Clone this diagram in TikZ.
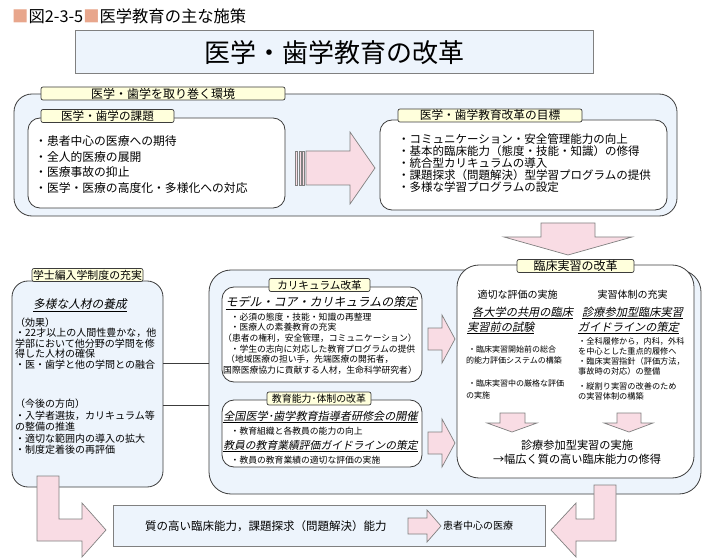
\documentclass[tikz,border=0pt]{standalone}
\usepackage{fontspec}
\setmainfont{Noto Sans CJK JP}
\newfontfamily\slantjp[FakeSlant=0.2]{Noto Sans CJK JP}
\usetikzlibrary{positioning}

\definecolor{paleblue}{RGB}{237,244,252}
\definecolor{tabyellow}{RGB}{255,255,220}
\definecolor{arrowpink}{RGB}{249,220,228}
\definecolor{headsq}{RGB}{232,166,140}
\definecolor{edgegray}{RGB}{60,60,60}
\newcommand{\jpsize}[2]{\fontsize{#1}{#2}\selectfont}

\tikzset{
  bluebox/.style={draw=edgegray, fill=paleblue, line width=0.8pt, inner sep=0pt},
  whitebox/.style={draw=edgegray, fill=white, line width=0.8pt, inner sep=0pt},
  tabbox/.style={draw=edgegray, fill=tabyellow, line width=0.7pt, rounded corners=2pt, inner sep=0pt, minimum height=13pt},
  pinkarrow/.style={draw=gray, fill=arrowpink, line width=0.7pt},
  txt/.style={inner sep=0pt, align=left, anchor=north west},
  head/.style={inner sep=0pt},
}

\begin{document}
\begin{tikzpicture}[x=1pt, y=-1pt]
\useasboundingbox (0,0) rectangle (713,559);

\node[anchor=west, head, font=\jpsize{16.3}{18}] (hdr) at (12,16) {\textcolor{headsq}{■}図2-3-5\textcolor{headsq}{■}医学教育の主な施策};
\node[draw=gray, fill=paleblue, line width=1pt, minimum width=518pt, minimum height=43pt, font=\jpsize{26}{30}] (title) at (334,52.5) {医学・歯学教育の改革};

\node[bluebox, rounded corners=18pt, minimum width=663pt, minimum height=122pt] (env) at (345.5,155) {};
\node[whitebox, rounded corners=12pt, minimum width=257pt, minimum height=90pt] (kadai) at (156.5,163) {};
\node[whitebox, rounded corners=12pt, minimum width=287pt, minimum height=90pt] (goal) at (523.5,165) {};
\node[tabbox, minimum width=244pt, font=\jpsize{12}{14}] (envtab) at (163,93.5) {医学・歯学を取り巻く環境};
\node[tabbox, minimum width=133pt, font=\jpsize{11.6}{13}] (kadaitab) at (107.5,116) {医学・歯学の課題};
\node[tabbox, minimum width=184pt, font=\jpsize{11.7}{13}] (goaltab) at (490,115.5) {医学・歯学教育改革の目標};
\node[txt, font=\jpsize{11.8}{15.5}] (kadailist) at (35,135.6) {・患者中心の医療への期待\\・全人的医療の展開\\・医療事故の抑止\\・医学・医療の高度化・多様化への対応};
\node[txt, font=\jpsize{11.5}{12}] (goallist) at (398,133.8) {・コミュニケーション・安全管理能力の向上\\・基本的臨床能力（態度・技能・知識）の修得\\・統合型カリキュラムの導入\\・課題探求（問題解決）型学習プログラムの提供\\・多様な学習プログラムの設定};

\draw[pinkarrow] (295.5,151) rectangle ++(2,34);
\draw[pinkarrow] (299,151) rectangle ++(2,34);
\draw[pinkarrow] (302.5,151) rectangle ++(2,34);
\draw[pinkarrow] (306,151) -- (350,151) -- (350,132) -- (375,168) -- (350,204) -- (350,185) -- (306,185) -- cycle;
\draw[pinkarrow] (541,223) -- (595,223) -- (595,237) -- (632,237) -- (568,255) -- (504,237) -- (541,237) -- cycle;

\node[bluebox, rounded corners=16pt, minimum width=151pt, minimum height=206pt] (gakushi) at (87.5,384) {};
\node[tabbox, minimum width=111pt, font=\jpsize{10.9}{12}] (gakushitab) at (87.5,275) {学士編入学制度の充実};
\node[head, font=\slantjp\jpsize{11.7}{13}] (jinzai) at (80,305) {\underline{多様な人材の養成}};
\node[txt, font=\jpsize{10}{10.5}] (kouka) at (15,317.5) {（効果）\\・22才以上の人間性豊かな，他\\学部において他分野の学問を修\\得した人材の確保\\・医・歯学と他の学問との融合};
\node[txt, font=\jpsize{10}{11.5}] (kongo) at (15,399) {（今後の方向）\\・入学者選抜，カリキュラム等\\の整備の推進\\・適切な範囲内の導入の拡大\\・制度定着後の再評価};

\node[bluebox, rounded corners=22pt, minimum width=492pt, minimum height=224pt] (reform) at (455,382) {};
\draw[line width=0.8pt, draw=edgegray] (gakushi.east |- 0,363) -- (reform.west |- 0,363);
\draw[line width=0.8pt, draw=edgegray] (gakushi.east |- 0,405) -- (reform.west |- 0,405);

\node[whitebox, rounded corners=12pt, minimum width=200pt, minimum height=95pt] (curri) at (322,334.5) {};
\node[whitebox, rounded corners=12pt, minimum width=200pt, minimum height=67pt] (staff) at (322,433.5) {};
\node[whitebox, rounded corners=22pt, minimum width=237pt, minimum height=213pt] (clin) at (575.5,371.5) {};
\node[tabbox, minimum width=101pt, font=\jpsize{10.6}{12}] (curritab) at (319.5,285) {カリキュラム改革};
\node[tabbox, minimum width=104pt, font=\jpsize{9.9}{12}] (stafftab) at (319,398.5) {教育能力･体制の改革};
\node[tabbox, minimum width=117pt, font=\jpsize{12}{13}] (clintab) at (575.5,266) {臨床実習の改革};

\node[head, font=\slantjp\jpsize{12}{14}] (model) at (321.5,303) {\underline{モデル・コア・カリキュラムの策定}};
\node[txt, font=\jpsize{8.8}{10.6}] (currilist) at (223,312.6) {\hspace*{7.5pt}・必須の態度・技能・知識の再整理\\\hspace*{7.5pt}・医療人の素養教育の充実\\（患者の権利，安全管理，コミュニケーション）\\\hspace*{7.5pt}・学生の志向に対応した教育プログラムの提供\\\hspace*{3pt}（地域医療の担い手，先端医療の開拓者，\\国際医療協力に貢献する人材，生命科学研究者）};

\node[head, font=\slantjp\jpsize{11.1}{13}] (forum) at (320.5,417) {\underline{全国医学･歯学教育指導者研修会の開催}};
\node[anchor=west, head, font=\jpsize{8.8}{10}] (forumtxt) at (230.5,431) {・教育組織と各教員の能力の向上};
\node[head, font=\slantjp\jpsize{10.8}{13}] (guide) at (320.5,446) {\underline{教員の教育業績評価ガイドラインの策定}};
\node[anchor=west, head, font=\jpsize{8.8}{10}] (guidetxt) at (230.5,460) {・教員の教育業績の適切な評価の実施};

\node[head, font=\jpsize{10}{12}] (evalhd) at (517.5,295) {適切な評価の実施};
\node[head, font=\jpsize{10}{12}] (systhd) at (632.5,295) {実習体制の充実};
\node[txt, font=\slantjp\jpsize{11.2}{15}] (cbt) at (467,306.4) {\hspace*{5pt}\underline{各大学の共用の臨床}\\\underline{実習前の試験}};
\node[txt, font=\slantjp\jpsize{11.2}{15}] (ccguide) at (578,306.4) {\hspace*{4pt}\underline{診療参加型臨床実習}\\\underline{ガイドラインの策定}};
\node[txt, font=\jpsize{8}{11}] (evaltxt) at (466,345.5) {\hspace*{2pt}・臨床実習開始前の総合\\的能力評価システムの構築};
\node[txt, font=\jpsize{8}{12.5}] (stricttxt) at (466,379.5) {\hspace*{2pt}・臨床実習中の厳格な評価\\の実施};
\node[txt, font=\jpsize{8.2}{10}] (systtxt) at (578,336.9) {・全科履修から，内科，外科\\を中心とした重点的履修へ\\・臨床実習指針（評価方法，\\事故時の対応）の整備};
\node[txt, font=\jpsize{8.2}{10.7}] (verttxt) at (578,381.9) {・縦割り実習の改善のため\\の実習体制の構築};
\node[head, align=center, anchor=north, font=\jpsize{11.2}{14}] (outcome) at (577,439.4) {診療参加型実習の実施\\→幅広く質の高い臨床能力の修得};

\draw[pinkarrow] (500,413) -- (525,413) -- (525,423) -- (537,423) -- (512,432) -- (487,423) -- (500,423) -- cycle;
\draw[pinkarrow] (617,413) -- (641,413) -- (641,423) -- (653,423) -- (629,432) -- (604,423) -- (617,423) -- cycle;
\draw[pinkarrow] (428,328) -- (442,328) -- (442,315) -- (455,339) -- (442,363) -- (442,350) -- (428,350) -- cycle;
\draw[pinkarrow] (428,432) -- (442,432) -- (442,419) -- (455,443) -- (442,467) -- (442,454) -- (428,454) -- cycle;

\node[draw=gray, fill=paleblue, line width=0.8pt, minimum width=432pt, minimum height=41pt, inner sep=0pt] (result) at (329,525.5) {};
\node[anchor=west, head, font=\jpsize{11.5}{13}] (ability) at (145,526) {質の高い臨床能力，課題探求（問題解決）能力};
\node[anchor=west, head, font=\jpsize{10}{12}] (patient) at (443,526) {患者中心の医療};
\draw[pinkarrow] (408,518) -- (427,518) -- (427,510) -- (441,526) -- (427,542) -- (427,534) -- (408,534) -- cycle;

\draw[pinkarrow] (37,476) -- (59,476) -- (59,519) -- (82,519) -- (82,503) -- (106,530) -- (82,557) -- (82,541) -- (37,541) -- cycle;
\draw[pinkarrow] (616,485) -- (594,485) -- (594,519) -- (576,519) -- (576,503) -- (551,530) -- (576,557) -- (576,541) -- (616,541) -- cycle;
\end{tikzpicture}
\end{document}
